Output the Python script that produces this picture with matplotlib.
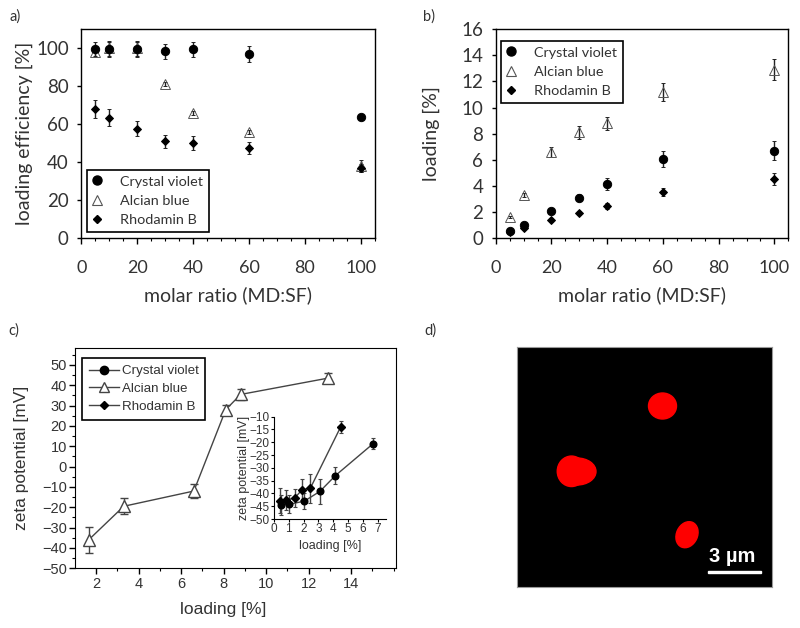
import matplotlib
matplotlib.use("Agg")
import matplotlib.pyplot as plt
from matplotlib.patches import Ellipse, Rectangle
from matplotlib.ticker import MultipleLocator

W, H = 800, 628

# panel a / b data
ratio = [5, 10, 20, 30, 40, 60, 100]
eff_cv = [99.5, 99.5, 99.5, 98.5, 99.5, 97, 64]
eff_cv_err = [4, 4, 4, 4, 4, 4, 1.5]
eff_ab = [98, 100, 100, 81, 66, 56, 38]
eff_ab_err = [2, 4, 4, 1, 1, 1, 3]
eff_rb = [68, 63.5, 57.5, 51, 50, 47.5, 37]
eff_rb_err = [4.5, 4.5, 4, 3.5, 3.5, 3, 2]

load_cv = [0.5, 1.0, 2.05, 3.1, 4.15, 6.05, 6.7]
load_cv_err = [0.1, 0.15, 0.2, 0.25, 0.45, 0.6, 0.7]
load_ab = [1.6, 3.3, 6.6, 8.1, 8.8, 11.2, 12.9]
load_ab_err = [0.1, 0.15, 0.4, 0.5, 0.5, 0.7, 0.8]
load_rb = [0.45, 0.8, 1.4, 1.9, 2.45, 3.5, 4.5]
load_rb_err = [0.1, 0.1, 0.15, 0.15, 0.2, 0.3, 0.45]

# panel c data
zeta_x = [1.65, 3.3, 6.6, 8.1, 8.8, 12.9]
zeta_ab = [-36, -19.5, -12, 28, 35.5, 43.5]
zeta_ab_err = [6.5, 4, 3.5, 2.5, 2.5, 2.5]

inset_cv_x = [0.5, 1.0, 2.05, 3.1, 4.15, 6.7]
inset_cv = [-44.5, -44.3, -43, -39.2, -33, -20.5]
inset_cv_err = [4, 3.5, 3, 4.8, 3.3, 2.2]
inset_rb_x = [0.4, 0.8, 1.4, 1.9, 2.45, 4.5]
inset_rb = [-42.8, -42.5, -41.8, -38.5, -38, -14]
inset_rb_err = [5, 4, 3.5, 4.2, 5.7, 2.2]

names = ["Crystal violet", "Alcian blue", "Rhodamin B"]
GREY = "#333333"
LINE = "#444444"


def add_axes(left, top, right, bottom):
    return fig.add_axes([left / W, 1 - bottom / H, (right - left) / W, (bottom - top) / H])


def points(ax, x, y, err, marker, size, face="black", edge="black"):
    ax.errorbar(x, y, yerr=err, fmt=marker, color="#222222", ms=size, mfc=face, mec=edge, mew=0.7,
                elinewidth=1, capsize=1.2, capthick=0.8)


def style_office(ax, ylabel, ypad):
    ax.set_xlim(0, 105)
    ax.set_xticks([0, 20, 40, 60, 80, 100])
    ax.xaxis.set_minor_locator(MultipleLocator(5))
    ax.tick_params(axis="x", which="major", direction="out", length=4, width=1, labelsize=13, pad=12, labelcolor=GREY)
    ax.tick_params(axis="x", which="minor", direction="out", length=2, width=0.8)
    ax.tick_params(axis="y", which="major", direction="out", length=3, width=1, labelsize=13.5, pad=6, labelcolor=GREY)
    ax.set_xlabel("molar ratio (MD:SF)", fontsize=14, color=GREY, labelpad=7)
    ax.set_ylabel(ylabel, fontsize=14, color=GREY, labelpad=ypad)
    for s in ax.spines.values():
        s.set_linewidth(1)


def legend_box(ax, handles, anchor):
    leg = ax.legend(handles, names, loc="lower left", bbox_to_anchor=anchor, frameon=True, fancybox=False,
                    framealpha=1, edgecolor="black", labelcolor=GREY, handletextpad=1.3, labelspacing=0.5,
                    borderpad=0.4, numpoints=1, prop={"family": "Lato", "size": 10.4},
                    handlelength=0.6, borderaxespad=0)
    leg.get_frame().set_linewidth(1.2)
    return leg


plt.rcParams["font.family"] = ["Lato", "DejaVu Sans"]
fig = plt.figure(figsize=(8, 6.28), dpi=100)

# a)
ax_a = add_axes(81.3, 29.3, 374.7, 238)
points(ax_a, ratio, eff_ab, eff_ab_err, "^", 6.5, face="none", edge="#555555")
points(ax_a, ratio, eff_cv, eff_cv_err, "o", 6)
points(ax_a, ratio, eff_rb, eff_rb_err, "D", 3.8)
ax_a.set_ylim(0, 110)
ax_a.set_yticks([0, 20, 40, 60, 80, 100])
style_office(ax_a, "loading efficiency [%]", 2.5)
h_a = [plt.Line2D([], [], ls="", marker="o", color="k", ms=6.5),
       plt.Line2D([], [], ls="", marker="^", mfc="none", color="#555555", mew=0.8, ms=6.5),
       plt.Line2D([], [], ls="", marker="D", color="k", ms=4.2)]
legend_box(ax_a, h_a, (0.0194, 0.029))

# b)
ax_b = add_axes(495.7, 29.3, 788.3, 238)
points(ax_b, ratio, load_ab, load_ab_err, "^", 6.5, face="none", edge="#555555")
points(ax_b, ratio, load_cv, load_cv_err, "o", 6)
points(ax_b, ratio, load_rb, load_rb_err, "D", 3.8)
ax_b.set_ylim(0, 16)
ax_b.set_yticks(range(0, 17, 2))
style_office(ax_b, "loading [%]", 15)
legend_box(ax_b, h_a, (0.017, 0.647))

# c)
ax_c = add_axes(75.3, 348.3, 395.7, 568.3)
ax_c.errorbar(zeta_x, zeta_ab, yerr=zeta_ab_err, fmt="^-", color=LINE, ms=8.5, mfc="white", mec=LINE,
              mew=1, lw=1, elinewidth=1, capsize=3, capthick=1)
ax_c.set_xlim(1.02, 16.1)
ax_c.set_ylim(-50, 58.2)
ax_c.set_xticks([2, 4, 6, 8, 10, 12, 14])
ax_c.set_yticks(range(-50, 51, 10))
ax_c.xaxis.set_minor_locator(MultipleLocator(1))
ax_c.yaxis.set_minor_locator(MultipleLocator(5))
ax_c.tick_params(axis="both", which="major", direction="out", length=4, width=1, labelsize=10.5, pad=2,
                 labelcolor=GREY, labelfontfamily="Liberation Sans")
ax_c.tick_params(axis="both", which="minor", direction="out", length=2, width=0.8)
ax_c.set_xlabel("loading [%]", fontsize=12.5, family="Liberation Sans", color=GREY, labelpad=8.5, x=0.4625)
ax_c.set_ylabel("zeta potential [mV]", fontsize=12.5, family="Liberation Sans", color=GREY, labelpad=9.5)
h_c = [plt.Line2D([], [], marker="o", color=LINE, mec="k", mfc="k", ms=6, lw=1),
       plt.Line2D([], [], marker="^", color=LINE, mec=LINE, mfc="white", ms=7, lw=1),
       plt.Line2D([], [], marker="D", color=LINE, mec="k", mfc="k", ms=4.5, lw=1)]
leg_c = ax_c.legend(h_c, names, loc="upper left", bbox_to_anchor=(0.0206, 0.955), frameon=True, fancybox=False,
                    framealpha=1, edgecolor="black", labelcolor=GREY, handletextpad=0.25, labelspacing=0.42,
                    borderpad=0.5, numpoints=1, prop={"family": "Liberation Sans", "size": 9.6},
                    handlelength=2.25, borderaxespad=0)
leg_c.get_frame().set_linewidth(1.2)

# inset of c)
ax_i = add_axes(274, 416.7, 385.7, 519)
ax_i.patch.set_alpha(0)
ax_i.errorbar(inset_cv_x, inset_cv, yerr=inset_cv_err, fmt="o-", color=LINE, ms=4.8, mfc="k", mec="k", lw=1,
              elinewidth=1, capsize=1.5, capthick=0.8)
ax_i.errorbar(inset_rb_x, inset_rb, yerr=inset_rb_err, fmt="D-", color=LINE, ms=3.8, mfc="k", mec="k", lw=1,
              elinewidth=1, capsize=1.5, capthick=0.8)
ax_i.set_xlim(0, 7.54)
ax_i.set_ylim(-50, -10)
ax_i.set_xticks(range(8))
ax_i.set_yticks(range(-50, -9, 5))
ax_i.spines["top"].set_visible(False)
ax_i.spines["right"].set_visible(False)
ax_i.tick_params(axis="both", direction="out", length=2.5, width=0.8, labelsize=8.5, pad=0.5, labelcolor=GREY,
                 labelfontfamily="Liberation Sans")
ax_i.set_xlabel("loading [%]", fontsize=9, family="Liberation Sans", color=GREY, labelpad=3.5)
ax_i.set_ylabel("zeta potential [mV]", fontsize=9, family="Liberation Sans", color=GREY, labelpad=0)

# d) micrograph
ax_d = add_axes(517.3, 346.7, 772.3, 586.7)
ax_d.set_facecolor("black")
ax_d.set_xlim(517.3, 772.3)
ax_d.set_ylim(586.7, 346.7)
ax_d.set_xticks([])
ax_d.set_yticks([])
for s in ax_d.spines.values():
    s.set_color("#999999")
    s.set_linewidth(0.8)
RED = "#fe0000"
ax_d.add_patch(Ellipse((662.5, 406), 28, 26, color=RED))
ax_d.add_patch(Ellipse((571.5, 471.3), 28.5, 30.5, color=RED))
ax_d.add_patch(Ellipse((577, 471.5), 38, 27, color=RED))
ax_d.add_patch(Ellipse((687, 534.7), 21, 27, angle=25, color=RED))
ax_d.add_patch(Rectangle((708, 570.5), 52.7, 2.5, color="white"))
ax_d.text(731.7, 556, "3 µm", color="white", fontsize=14.5, fontweight="bold", family="Liberation Sans",
          ha="center", va="center")

# panel letters
for label, x, y in [("a)", 9, 17), ("b)", 423, 17), ("c)", 8, 331), ("d)", 424, 331)]:
    fig.text(x / W, 1 - y / H, label, fontsize=10.5, color=GREY, va="center")

fig.savefig("out.png", dpi=100)
